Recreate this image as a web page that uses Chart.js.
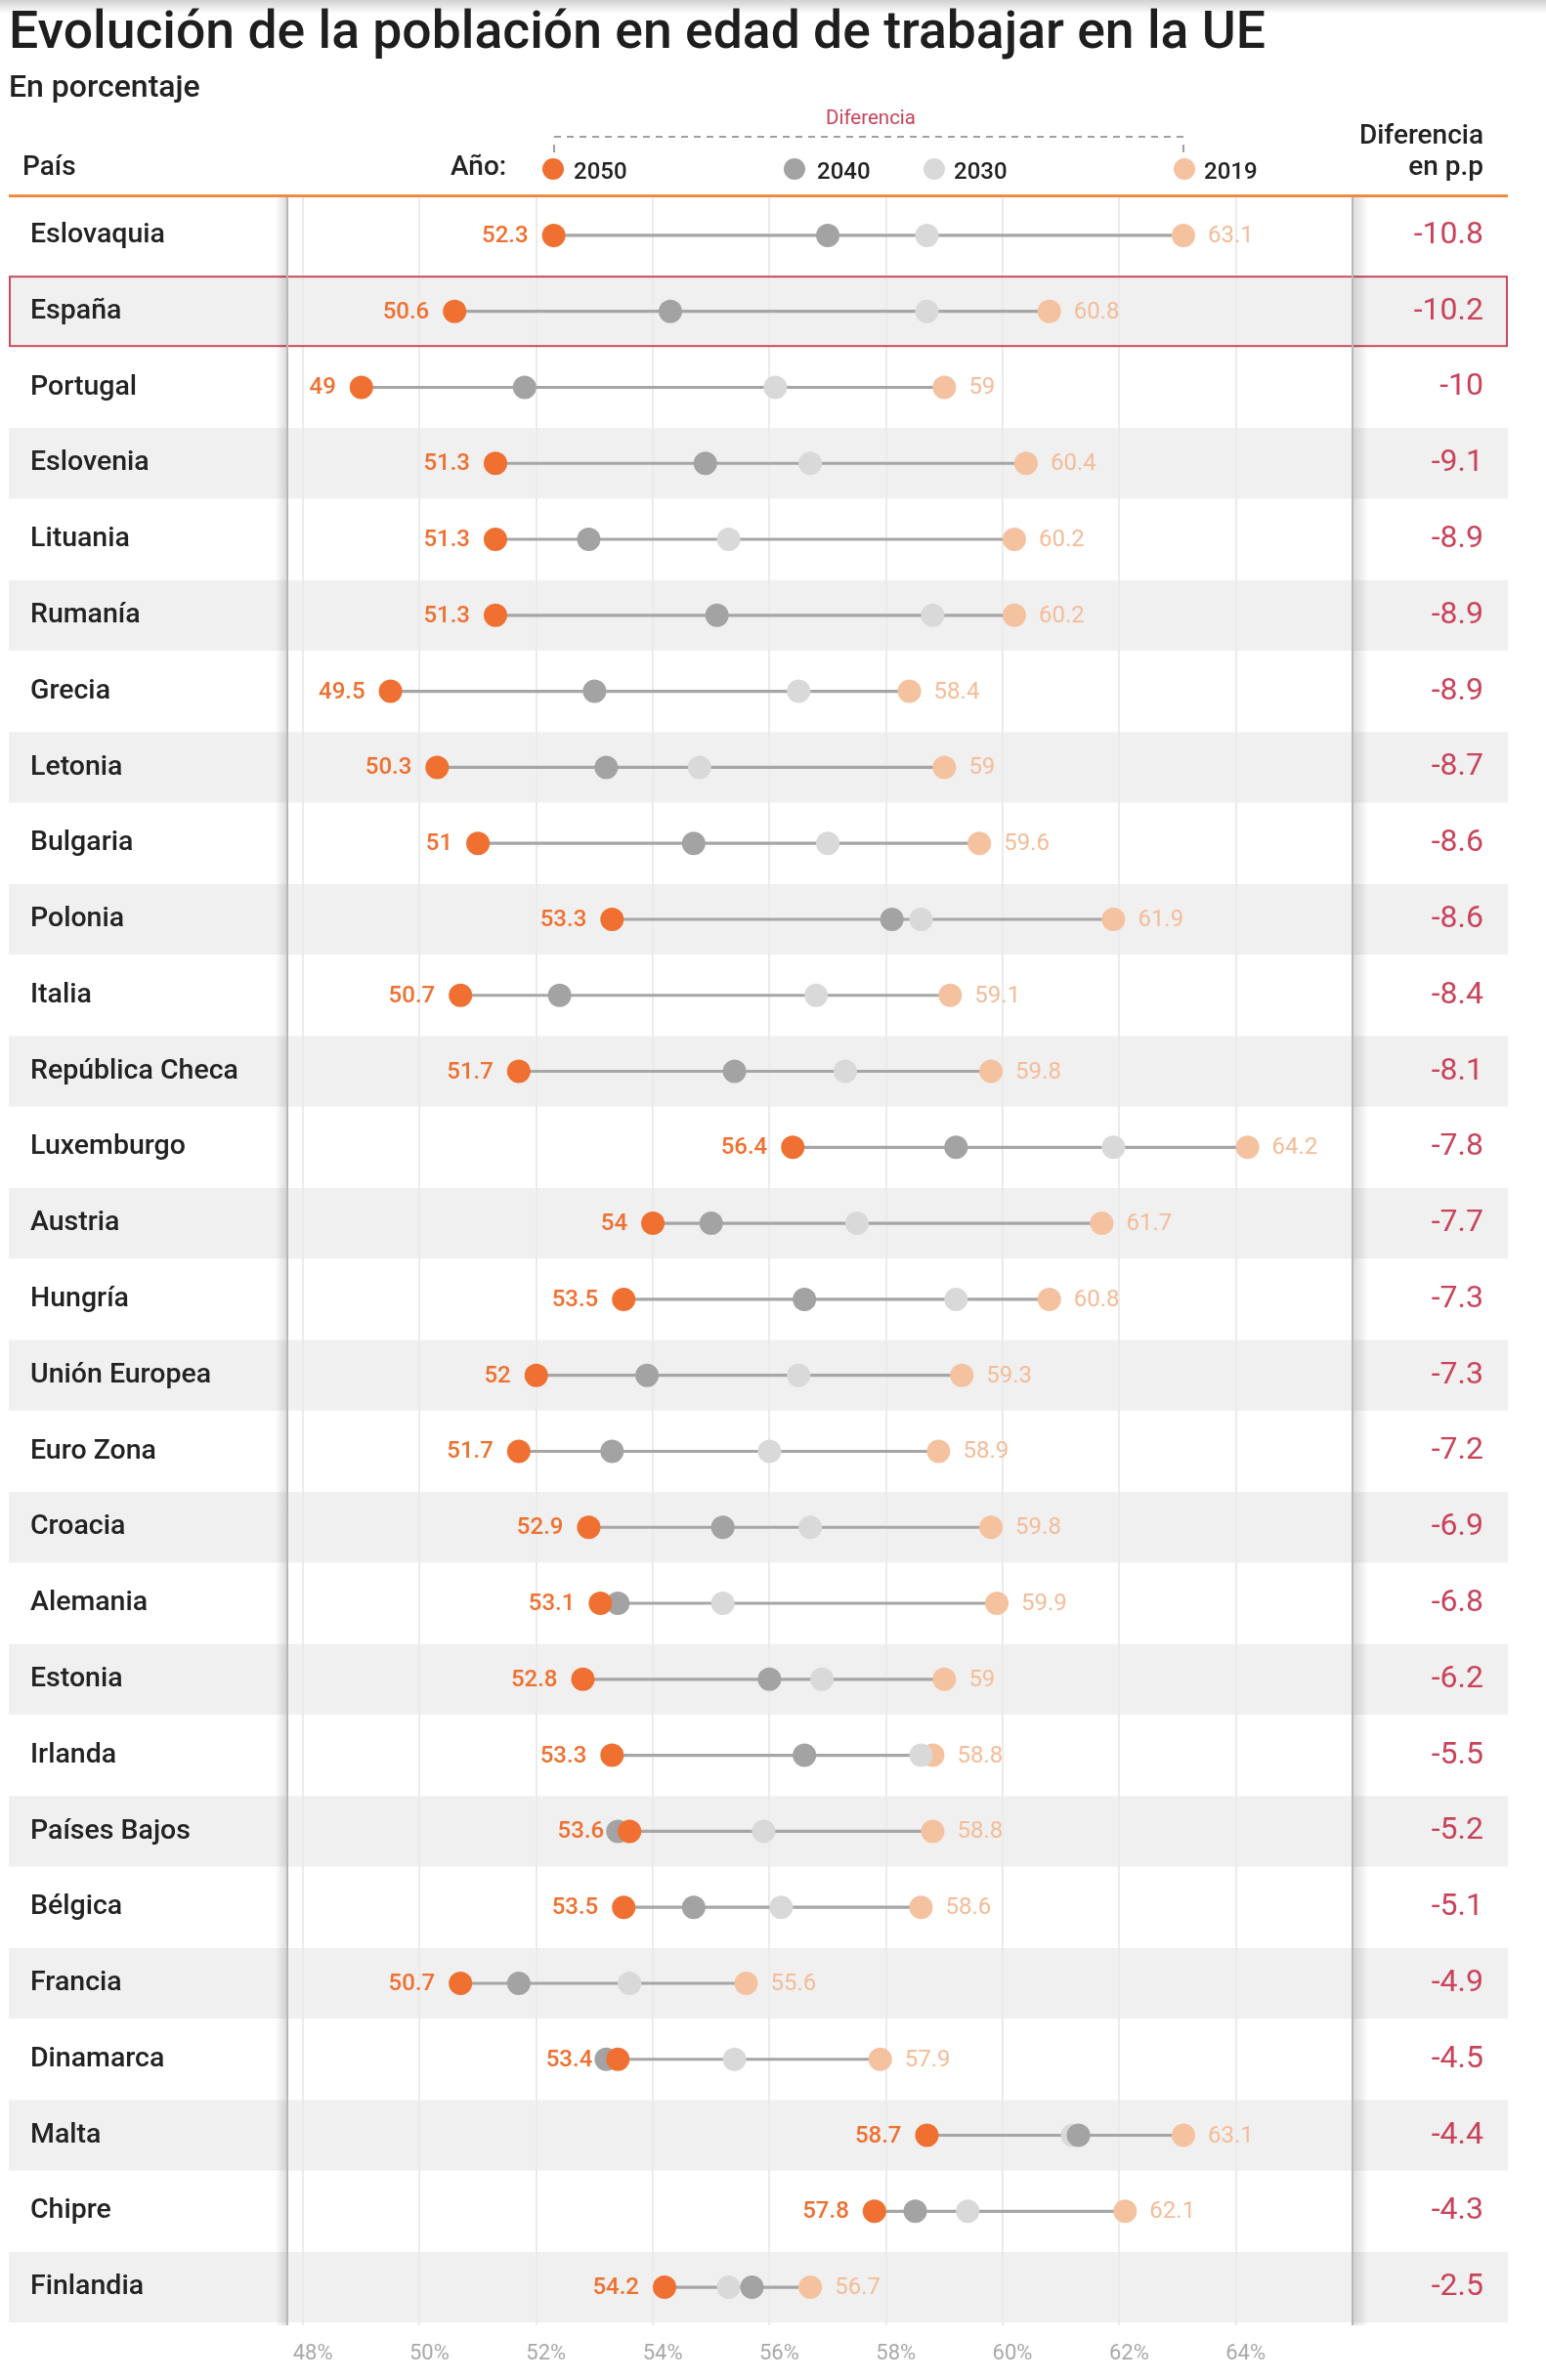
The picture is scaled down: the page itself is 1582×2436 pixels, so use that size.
<!DOCTYPE html>
<html lang="es">
<head>
<meta charset="utf-8">
<title>Evolución de la población en edad de trabajar en la UE</title>
<script src="https://cdn.jsdelivr.net/npm/chart.js@4.4.1/dist/chart.umd.min.js"></script>
<style>
  body { margin: 0; width: 1582px; height: 2436px; position: relative; overflow: hidden; background: #fff; font-family: Roboto, sans-serif; color: #222; }
  .abs { position: absolute; white-space: nowrap; }
  #shade { left: 0; top: 0; width: 1582px; height: 14px; background: linear-gradient(rgba(0,0,0,0.18), rgba(0,0,0,0)); }
  #title { left: 9px; top: 4px; font-size: 53.5px; line-height: 53.5px; font-weight: 500; color: #1e1e1e; }
  #subtitle { left: 9px; top: 72px; font-size: 32px; line-height: 32px; font-weight: 500; }
  .head { font-size: 28px; line-height: 28px; font-weight: 500; }
  .leg { font-size: 24px; line-height: 24px; font-weight: 500; top: 163px; }
  .dot { width: 22px; height: 22px; border-radius: 50%; top: 162px; }
  #rule { left: 9px; top: 199px; width: 1534px; height: 3px; background: #f28a3e; }
  #difLabel { left: 845px; top: 110px; font-size: 20.5px; line-height: 20.5px; color: #c9435a; }
  #dash { left: 567px; top: 139px; width: 645px; height: 2px;
    background: repeating-linear-gradient(to right, #a0a0a0 0 7px, rgba(0,0,0,0) 7px 13px); }
  .tick { top: 148px; width: 2px; height: 8px; background: #a0a0a0; }
  canvas { position: absolute; left: 0; top: 0; }
</style>
</head>
<body>
<canvas id="chart" width="1582" height="2436"></canvas>
<div class="abs" id="shade"></div>
<div class="abs" id="title">Evolución de la población en edad de trabajar en la UE</div>
<div class="abs" id="subtitle">En porcentaje</div>
<div class="abs head" style="left:23px; top:156px;">País</div>
<div class="abs head" style="left:461px; top:156px;">Año:</div>
<div class="abs dot" style="left:555px; background:#ef7030;"></div>
<div class="abs leg" style="left:587px;">2050</div>
<div class="abs dot" style="left:802px; background:#a3a3a3;"></div>
<div class="abs leg" style="left:836px;">2040</div>
<div class="abs dot" style="left:945px; background:#d9d9d9;"></div>
<div class="abs leg" style="left:976px;">2030</div>
<div class="abs dot" style="left:1201px; background:#f5c2a0;"></div>
<div class="abs leg" style="left:1232px;">2019</div>
<div class="abs" id="difLabel">Diferencia</div>
<div class="abs" id="dash"></div>
<div class="abs tick" style="left:566px;"></div>
<div class="abs tick" style="left:1210px;"></div>
<div class="abs head" style="right:64px; top:124px; text-align:right;">Diferencia</div>
<div class="abs head" style="right:64px; top:156px; text-align:right;">en p.p</div>
<div class="abs" id="rule"></div>
<script>
const countries = ['Eslovaquia', 'España', 'Portugal', 'Eslovenia', 'Lituania', 'Rumanía', 'Grecia',
  'Letonia', 'Bulgaria', 'Polonia', 'Italia', 'República Checa', 'Luxemburgo', 'Austria', 'Hungría',
  'Unión Europea', 'Euro Zona', 'Croacia', 'Alemania', 'Estonia', 'Irlanda', 'Países Bajos',
  'Bélgica', 'Francia', 'Dinamarca', 'Malta', 'Chipre', 'Finlandia'];
const values2050 = [52.3, 50.6, 49, 51.3, 51.3, 51.3, 49.5, 50.3, 51, 53.3, 50.7, 51.7, 56.4, 54,
  53.5, 52, 51.7, 52.9, 53.1, 52.8, 53.3, 53.6, 53.5, 50.7, 53.4, 58.7, 57.8, 54.2];
const values2040 = [57.0, 54.3, 51.8, 54.9, 52.9, 55.1, 53.0, 53.2, 54.7, 58.1, 52.4, 55.4, 59.2, 55.0,
  56.6, 53.9, 53.3, 55.2, 53.4, 56.0, 56.6, 53.4, 54.7, 51.7, 53.2, 61.3, 58.5, 55.7];
const values2030 = [58.7, 58.7, 56.1, 56.7, 55.3, 58.8, 56.5, 54.8, 57.0, 58.6, 56.8, 57.3, 61.9, 57.5,
  59.2, 56.5, 56.0, 56.7, 55.2, 56.9, 58.6, 55.9, 56.2, 53.6, 55.4, 61.2, 59.4, 55.3];
const values2019 = [63.1, 60.8, 59, 60.4, 60.2, 60.2, 58.4, 59, 59.6, 61.9, 59.1, 59.8, 64.2, 61.7,
  60.8, 59.3, 58.9, 59.8, 59.9, 59, 58.8, 58.8, 58.6, 55.6, 57.9, 63.1, 62.1, 56.7];
const diffs = [-10.8, -10.2, -10, -9.1, -8.9, -8.9, -8.9, -8.7, -8.6, -8.6, -8.4, -8.1, -7.8, -7.7,
  -7.3, -7.3, -7.2, -6.9, -6.8, -6.2, -5.5, -5.2, -5.1, -4.9, -4.5, -4.4, -4.3, -2.5];
const tickValues = [48, 50, 52, 54, 56, 58, 60, 62, 64];

const c2050 = '#ef7030';
const c2040 = '#a3a3a3';
const c2030 = '#d9d9d9';
const c2019 = '#f5c2a0';

// zebra rows, highlighted España, and the panel edges with their shadow
var rowShading = {
  id: 'rowShading',
  beforeDraw: function (chart) {
    const ctx = chart.ctx;
    const y = chart.scales.y;
    ctx.save();
    ctx.fillStyle = '#f0f0f0';
    countries.forEach((c, i) => {
      if (i % 2 === 1) {
        const py = y.getPixelForValue(i);
        ctx.fillRect(9, py - 36, 1534, 72);
      }
    });
    ctx.restore();
  },
  beforeDatasetsDraw: function (chart) {
    const ctx = chart.ctx;
    const { left, right, top, bottom } = chart.chartArea;
    const py = chart.scales.y.getPixelForValue(countries.indexOf('España'));
    ctx.save();
    ctx.strokeStyle = '#cc4a5e';
    ctx.lineWidth = 2;
    ctx.strokeRect(10, py - 35.5, 1532, 71);

    let g = ctx.createLinearGradient(left - 12, 0, left, 0);
    g.addColorStop(0, 'rgba(0,0,0,0)');
    g.addColorStop(1, 'rgba(0,0,0,0.14)');
    ctx.fillStyle = g;
    ctx.fillRect(left - 12, top, 12, bottom - top);
    g = ctx.createLinearGradient(right, 0, right + 16, 0);
    g.addColorStop(0, 'rgba(0,0,0,0.14)');
    g.addColorStop(1, 'rgba(0,0,0,0)');
    ctx.fillStyle = g;
    ctx.fillRect(right, top, 16, bottom - top);
    ctx.fillStyle = '#b8b8b8';
    ctx.fillRect(left - 1, top, 2, bottom - top);
    ctx.fillRect(right - 1, top, 2, bottom - top);
    ctx.restore();
  },
};

var valueLabels = {
  id: 'valueLabels',
  afterDatasetsDraw: function (chart) {
    const ctx = chart.ctx;
    const first = chart.getDatasetMeta(0).data;
    const last = chart.getDatasetMeta(3).data;
    ctx.save();
    ctx.textBaseline = 'middle';
    ctx.font = '500 24px Roboto';
    ctx.fillStyle = c2050;
    ctx.textAlign = 'right';
    first.forEach((pt, i) => ctx.fillText(String(values2050[i]), pt.x - 26, pt.y + 1));
    ctx.font = '400 24px Roboto';
    ctx.fillStyle = '#f4bc98';
    ctx.textAlign = 'left';
    last.forEach((pt, i) => ctx.fillText(String(values2019[i]), pt.x + 25, pt.y + 1));
    ctx.restore();
  },
};

function dots(label, data, color, order) {
  return {
    type: 'line',
    label: label,
    data: data,
    showLine: false,
    pointRadius: 12,
    pointBackgroundColor: color,
    pointBorderWidth: 0,
    borderWidth: 0,
    order: order,
  };
}

var ctx = document.getElementById('chart').getContext('2d');
var chart = new Chart(ctx, {
  type: 'bar',
  plugins: [rowShading, valueLabels],
  data: {
    labels: countries,
    datasets: [
      dots('2050', values2050, c2050, 0),
      dots('2040', values2040, c2040, 1),
      dots('2030', values2030, c2030, 2),
      dots('2019', values2019, c2019, 3),
      {
        type: 'bar',
        label: 'Diferencia',
        data: countries.map((c, i) => [values2050[i], values2019[i]]),
        backgroundColor: '#a6a6a6',
        barThickness: 2.5,
        order: 4,
      },
    ],
  },
  options: {
    indexAxis: 'y',
    responsive: false,
    animation: false,
    devicePixelRatio: 1,
    events: [],
    layout: { padding: { left: 31, right: 64, top: 202, bottom: 6 } },
    plugins: {
      legend: { display: false },
      tooltip: { enabled: false },
    },
    scales: {
      x: {
        type: 'linear',
        position: 'bottom',
        min: 47.73,
        max: 66,
        afterBuildTicks: (scale) => {
          scale.ticks = tickValues.map((v) => ({ value: v }));
        },
        afterFit: (scale) => {
          scale.height = 50;
        },
        grid: { color: '#ebebeb', lineWidth: 2, drawTicks: false },
        border: { display: false },
        ticks: {
          padding: 16,
          labelOffset: 10,
          color: '#a9a9a9',
          font: { family: 'Roboto', size: 22 },
          callback: (v) => v + '%',
        },
      },
      y: {
        type: 'category',
        position: 'left',
        offset: true,
        grid: { display: false },
        border: { display: false },
        afterFit: (scale) => {
          scale.width = 263;
        },
        ticks: {
          crossAlign: 'far',
          autoSkip: false,
          padding: 0,
          color: '#222',
          font: { family: 'Roboto', size: 28.5, weight: '500' },
        },
      },
      y2: {
        type: 'category',
        axis: 'y',
        position: 'right',
        labels: diffs.map(String),
        offset: true,
        grid: { display: false },
        border: { display: false },
        afterFit: (scale) => {
          scale.width = 134;
        },
        ticks: {
          crossAlign: 'far',
          autoSkip: false,
          color: '#c9435a',
          font: { family: 'Roboto', size: 32 },
        },
      },
    },
  },
});
</script>
</body>
</html>
